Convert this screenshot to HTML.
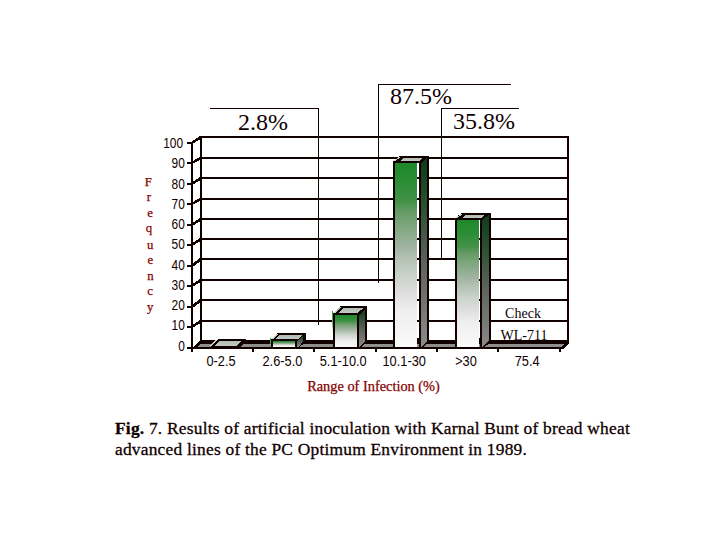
<!DOCTYPE html>
<html><head><meta charset="utf-8"><title>Fig. 7</title>
<style>
html,body{margin:0;padding:0;background:#fff;}
body{width:720px;height:540px;overflow:hidden;position:relative;}
svg{position:absolute;left:0;top:0;}
.ax{font-family:"Liberation Sans",sans-serif;font-size:14px;fill:#100000;}
.pct{font-family:"Liberation Serif",serif;font-size:24px;fill:#100000;text-anchor:middle;}
.sm{font-family:"Liberation Serif",serif;font-size:14px;fill:#100000;text-anchor:middle;}
.red{font-family:"Liberation Serif",serif;fill:#840000;stroke:#840000;stroke-width:0.25px;text-anchor:middle;}
.cap{position:absolute;left:115px;top:418.3px;width:600px;white-space:nowrap;font-family:"Liberation Serif",serif;font-size:17.4px;line-height:20.7px;letter-spacing:0.22px;color:#100000;-webkit-text-stroke:0.3px #100000;margin:0;}
</style></head>
<body>
<svg width="720" height="540" viewBox="0 0 720 540" shape-rendering="crispEdges">
<defs>
<linearGradient id="gFront" x1="0" y1="0" x2="0" y2="1">
<stop offset="0" stop-color="#1e882a"/>
<stop offset="0.12" stop-color="#2e8e38"/>
<stop offset="0.21" stop-color="#449248"/>
<stop offset="0.26" stop-color="#649a64"/>
<stop offset="0.34" stop-color="#7ea67e"/>
<stop offset="0.45" stop-color="#9fb39f"/>
<stop offset="0.52" stop-color="#b4c2b4"/>
<stop offset="0.61" stop-color="#cad2ca"/>
<stop offset="0.72" stop-color="#e0e0e0"/>
<stop offset="0.80" stop-color="#eeeeee"/>
<stop offset="1" stop-color="#fbfbfb"/>
</linearGradient>
<linearGradient id="gSide" x1="0" y1="0" x2="0" y2="1">
<stop offset="0" stop-color="#0f3a1a"/>
<stop offset="0.25" stop-color="#2a5030"/>
<stop offset="0.55" stop-color="#5c625c"/>
<stop offset="0.8" stop-color="#767876"/>
<stop offset="1" stop-color="#8a8a8a"/>
</linearGradient>
<linearGradient id="gGreenLine" x1="0" y1="0" x2="0" y2="1">
<stop offset="0" stop-color="#18a020"/>
<stop offset="0.5" stop-color="#60b060"/>
<stop offset="1" stop-color="#ffffff" stop-opacity="0"/>
</linearGradient>
<linearGradient id="gTop" x1="0" y1="0" x2="0" y2="1">
<stop offset="0" stop-color="#b0bcb2"/>
<stop offset="1" stop-color="#c4c8c4"/>
</linearGradient>
</defs>
<rect x="200" y="136" width="369" height="2" fill="#100000"/>
<rect x="200" y="157" width="369" height="2" fill="#100000"/>
<rect x="200" y="177" width="369" height="2" fill="#100000"/>
<rect x="200" y="198" width="369" height="2" fill="#100000"/>
<rect x="200" y="218" width="369" height="2" fill="#100000"/>
<rect x="200" y="238" width="369" height="2" fill="#100000"/>
<rect x="200" y="258" width="369" height="2" fill="#100000"/>
<rect x="200" y="279" width="369" height="2" fill="#100000"/>
<rect x="200" y="299" width="369" height="2" fill="#100000"/>
<rect x="200" y="320" width="369" height="2" fill="#100000"/>
<rect x="200" y="136" width="2" height="208" fill="#100000"/>
<rect x="567" y="136" width="2" height="208" fill="#100000"/>
<rect x="191" y="142" width="2" height="210" fill="#100000"/>
<rect x="187" y="142" width="5" height="2" fill="#100000"/>
<polygon points="191,144 191,142 200,136 202,136 202,138 192.5,144" fill="#100000"/>
<rect x="187" y="162" width="5" height="2" fill="#100000"/>
<polygon points="191,164 191,162 200,157 202,157 202,159 192.5,164" fill="#100000"/>
<rect x="187" y="183" width="5" height="2" fill="#100000"/>
<polygon points="191,185 191,183 200,177 202,177 202,179 192.5,185" fill="#100000"/>
<rect x="187" y="203" width="5" height="2" fill="#100000"/>
<polygon points="191,205 191,203 200,198 202,198 202,200 192.5,205" fill="#100000"/>
<rect x="187" y="224" width="5" height="2" fill="#100000"/>
<polygon points="191,226 191,224 200,218 202,218 202,220 192.5,226" fill="#100000"/>
<rect x="187" y="244" width="5" height="2" fill="#100000"/>
<polygon points="191,246 191,244 200,238 202,238 202,240 192.5,246" fill="#100000"/>
<rect x="187" y="265" width="5" height="2" fill="#100000"/>
<polygon points="191,267 191,265 200,258 202,258 202,260 192.5,267" fill="#100000"/>
<rect x="187" y="285" width="5" height="2" fill="#100000"/>
<polygon points="191,287 191,285 200,279 202,279 202,281 192.5,287" fill="#100000"/>
<rect x="187" y="306" width="5" height="2" fill="#100000"/>
<polygon points="191,308 191,306 200,299 202,299 202,301 192.5,308" fill="#100000"/>
<rect x="187" y="326" width="5" height="2" fill="#100000"/>
<polygon points="191,328 191,326 200,320 202,320 202,322 192.5,328" fill="#100000"/>
<rect x="187" y="347" width="5" height="2" fill="#100000"/>
<polygon points="191,349 200,340 569,340 569,343.5 563,349" fill="#100000"/>
<polygon points="197,347 200,344 564.5,344 561.5,347" fill="#8e8e8e"/>
<rect x="252" y="349" width="2" height="3" fill="#100000"/>
<rect x="313" y="349" width="2" height="3" fill="#100000"/>
<rect x="375" y="349" width="2" height="3" fill="#100000"/>
<rect x="436" y="349" width="2" height="3" fill="#100000"/>
<rect x="497" y="349" width="2" height="3" fill="#100000"/>
<rect x="559" y="349" width="2" height="3" fill="#100000"/>
<rect x="332" y="311" width="1" height="24" fill="url(#gGreenLine)"/>
<rect x="270" y="338" width="1" height="8" fill="url(#gGreenLine)"/>
<polygon points="211,349 211,346 218,339 246,339 246,341 239,349" fill="#100000"/>
<polygon points="214.5,346 219.5,341 241.5,341 236.5,346" fill="url(#gTop)"/>
<polygon points="209.5,346 215.5,340 217,340 211,346" fill="#c8d0cc"/>
<polygon points="271,349 271,339 278,333 306,333 306,342 297,349" fill="#100000"/>
<polygon points="271,339 277,334 279,334 273,339" fill="#c4ccc6"/>
<polygon points="275,339 279,335 302,335 298,339" fill="url(#gTop)"/>
<polygon points="297,341 303,336 303,341 299,347 297,347" fill="url(#gSide)"/>
<rect x="273" y="341" width="22" height="6" fill="url(#gFront)"/>
<polygon points="333,349 333,313 340,306 367,306 367,342 359,349" fill="#100000"/>
<polygon points="333,313 339,307 341,307 335,313" fill="#c4ccc6"/>
<polygon points="338,313 343,308 364,308 357,313" fill="url(#gTop)"/>
<polygon points="359,315 365,309 365,341 359,347" fill="url(#gSide)"/>
<rect x="335" y="315" width="22" height="32" fill="url(#gFront)"/>
<polygon points="393,349 393,161 400,156 429,156 429,342 421,349" fill="#100000"/>
<polygon points="393,161 399,157 401,157 395,161" fill="#c4ccc6"/>
<polygon points="400,161 403,158 422,158 419,161" fill="url(#gTop)"/>
<polygon points="421,163 427,158 427,341 421,347" fill="url(#gSide)"/>
<rect x="395" y="163" width="22" height="184" fill="url(#gFront)"/>
<rect x="417" y="163" width="2" height="175" fill="#fff"/>
<rect x="417" y="177" width="2" height="2" fill="#100000"/>
<rect x="417" y="198" width="2" height="2" fill="#100000"/>
<rect x="417" y="218" width="2" height="2" fill="#100000"/>
<rect x="417" y="238" width="2" height="2" fill="#100000"/>
<rect x="417" y="258" width="2" height="2" fill="#100000"/>
<rect x="417" y="279" width="2" height="2" fill="#100000"/>
<rect x="417" y="299" width="2" height="2" fill="#100000"/>
<rect x="417" y="320" width="2" height="2" fill="#100000"/>
<rect x="417" y="344" width="2" height="3" fill="#8e8e8e"/>
<polygon points="455,349 455,218 462,213 491,213 491,342 482,349" fill="#100000"/>
<polygon points="455,218 461,214 463,214 457,218" fill="#c4ccc6"/>
<polygon points="462,218 465,215 484,215 481,218" fill="url(#gTop)"/>
<polygon points="482,220 489,215 489,341 482,347" fill="url(#gSide)"/>
<rect x="457" y="220" width="22" height="127" fill="url(#gFront)"/>
<rect x="479" y="220" width="1" height="118" fill="#fff"/>
<rect x="479" y="238" width="1" height="2" fill="#100000"/>
<rect x="479" y="258" width="1" height="2" fill="#100000"/>
<rect x="479" y="279" width="1" height="2" fill="#100000"/>
<rect x="479" y="299" width="1" height="2" fill="#100000"/>
<rect x="479" y="320" width="1" height="2" fill="#100000"/>
<rect x="479" y="344" width="1" height="3" fill="#8e8e8e"/>
<rect x="210" y="108" width="109" height="1" fill="#100000"/>
<rect x="318" y="108" width="1" height="217" fill="#100000"/>
<rect x="378" y="84" width="133" height="1" fill="#100000"/>
<rect x="378" y="84" width="1" height="199" fill="#100000"/>
<rect x="441" y="108" width="78" height="1" fill="#100000"/>
<rect x="441" y="108" width="1" height="151" fill="#100000"/>
<g shape-rendering="auto">
<text transform="translate(183.0,148.00) scale(0.85,1)" text-anchor="end" class="ax">100</text>
<text transform="translate(184.8,168.26) scale(0.85,1)" text-anchor="end" class="ax">90</text>
<text transform="translate(184.8,188.52) scale(0.85,1)" text-anchor="end" class="ax">80</text>
<text transform="translate(184.8,208.78) scale(0.85,1)" text-anchor="end" class="ax">70</text>
<text transform="translate(184.8,229.04) scale(0.85,1)" text-anchor="end" class="ax">60</text>
<text transform="translate(184.8,249.30) scale(0.85,1)" text-anchor="end" class="ax">50</text>
<text transform="translate(184.8,269.56) scale(0.85,1)" text-anchor="end" class="ax">40</text>
<text transform="translate(184.8,289.82) scale(0.85,1)" text-anchor="end" class="ax">30</text>
<text transform="translate(184.8,310.08) scale(0.85,1)" text-anchor="end" class="ax">20</text>
<text transform="translate(184.8,330.34) scale(0.85,1)" text-anchor="end" class="ax">10</text>
<text transform="translate(184.8,350.60) scale(0.85,1)" text-anchor="end" class="ax">0</text>
<text transform="translate(221,365.8) scale(0.915,1)" text-anchor="middle" class="ax">0-2.5</text>
<text transform="translate(282.4,365.8) scale(0.915,1)" text-anchor="middle" class="ax">2.6-5.0</text>
<text transform="translate(343.2,365.8) scale(0.915,1)" text-anchor="middle" class="ax">5.1-10.0</text>
<text transform="translate(404.2,365.8) scale(0.915,1)" text-anchor="middle" class="ax">10.1-30</text>
<text transform="translate(466,365.8) scale(0.915,1)" text-anchor="middle" class="ax">&gt;30</text>
<text transform="translate(527.1,365.8) scale(0.915,1)" text-anchor="middle" class="ax">75.4</text>
<text x="263" y="130" class="pct">2.8%</text>
<text x="421" y="104" class="pct">87.5%</text>
<text x="484" y="129" class="pct">35.8%</text>
<text x="523" y="318" class="sm">Check</text>
<text x="524" y="339.5" class="sm">WL-711</text>
<text x="373.5" y="391" class="red" font-size="14.35">Range of Infection (%)</text>
<text x="148.2" y="185.9" class="red" font-size="12.8">F</text>
<text x="149" y="200.6" class="red" font-size="12.8">r</text>
<text x="150" y="216.5" class="red" font-size="12.8">e</text>
<text x="149" y="232" class="red" font-size="12.8">q</text>
<text x="150.3" y="248.6" class="red" font-size="12.8">u</text>
<text x="150.3" y="264.3" class="red" font-size="12.8">e</text>
<text x="150.5" y="280.3" class="red" font-size="12.8">n</text>
<text x="150.1" y="294.9" class="red" font-size="12.8">c</text>
<text x="150.3" y="311" class="red" font-size="12.8">y</text>
</g>
</svg>
<p class="cap"><b>Fig.</b> 7. Results of artificial inoculation with Karnal Bunt of bread wheat<br>advanced lines of the PC Optimum Environment in 1989.</p>
</body></html>
